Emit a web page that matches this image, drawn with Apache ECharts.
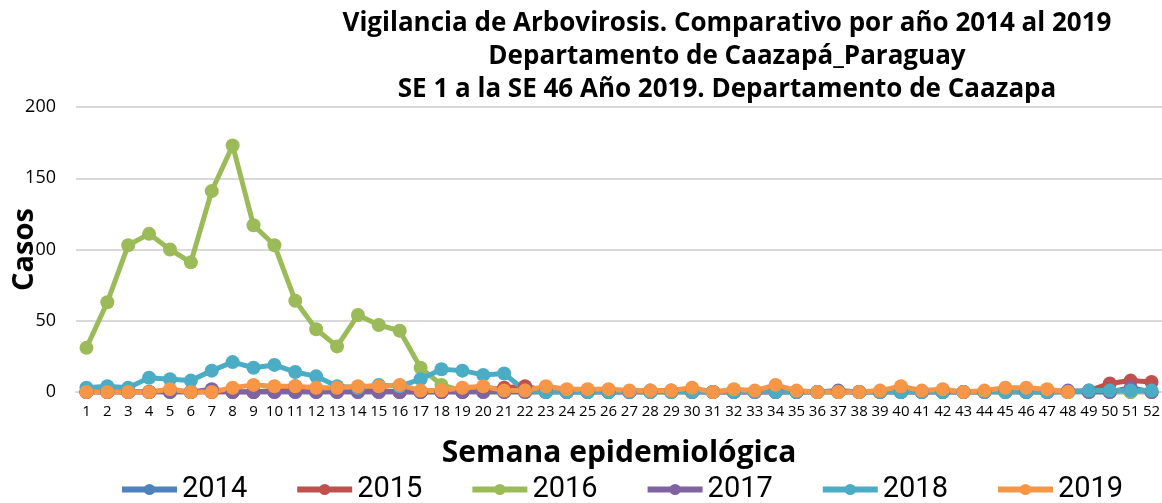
<!DOCTYPE html>
<html>
<head>
<meta charset="utf-8">
<script src="https://cdn.jsdelivr.net/npm/echarts@6/dist/echarts.min.js"></script>
<style>
  html, body { margin: 0; padding: 0; background: #fff; }
  #mountNode { width: 1162px; height: 503px; }
</style>
</head>
<body>
<div id="mountNode"></div>
<script>
// semanas epidemiologicas 1..52
const weeks = []
for (let i = 1; i <= 52; i++) weeks.push(String(i))

const years = ['2014', '2015', '2016', '2017', '2018', '2019']
const colors = ['#4F81BD', '#C0504D', '#9BBB59', '#8064A2', '#4BACC6', '#F79646']

const casos2014 = [0,0,0,0,0,0,0,0,0,0,0,0,0,0,0,0,0,0,0,0,0,0,0,0,0,0,
  0,0,0,0,0,0,0,0,0,0,0,0,0,0,0,0,0,0,0,0,0,0,0,0,0,0]
const casos2015 = [0,0,0,0,1,0,0,0,0,1,4,1,3,2,1,0,0,0,0,1,3,4,1,0,0,0,
  0,0,0,0,0,0,0,0,0,0,0,0,0,0,0,0,0,0,0,0,0,0,1,6,8,7]
const casos2016 = [31,63,103,111,100,91,141,173,117,103,64,44,32,54,47,43,17,5,1,0,0,0,0,0,0,0,
  0,0,0,0,0,0,0,0,0,0,0,0,0,0,0,0,0,0,0,0,0,0,0,0,0,0]
const casos2017 = [0,0,0,0,0,0,2,0,0,0,0,0,0,0,0,0,0,0,0,0,0,0,0,0,0,0,
  0,1,1,0,0,0,0,0,0,0,1,0,0,0,0,0,0,0,1,0,0,1,0,0,3,0]
const casos2018 = [3,4,3,10,9,8,15,21,17,19,14,11,4,3,5,4,9,16,15,12,13,1,0,0,0,0,
  0,0,0,0,0,0,0,0,0,0,0,0,0,0,0,0,0,0,0,0,0,0,1,1,1,1]
const casos2019 = [0,0,0,0,2,0,0,3,5,4,4,3,3,4,4,5,1,1,3,4,1,1,4,2,2,2,
  1,1,1,3,0,2,1,5,1,0,0,0,1,4,1,2,0,1,3,3,2,0]

const seriesData = [casos2014, casos2015, casos2016, casos2017, casos2018, casos2019]

const myChart = echarts.init(document.getElementById('mountNode'))
const option = {
    animation: false,
    color: colors,
    textStyle: { fontFamily: 'Open Sans', color: '#000' },
    title: {
        text: 'Vigilancia de Arbovirosis. Comparativo por año 2014 al 2019\nDepartamento de Caazapá_Paraguay\nSE 1 a la SE 46 Año 2019. Departamento de Caazapa',
        left: 722,
        top: 2,
        textAlign: 'center',
        textStyle: {
            fontFamily: 'Open Sans',
            fontSize: 26,
            fontWeight: 'bold',
            lineHeight: 33,
            color: '#000'
        }
    },
    legend: {
        data: years,
        top: 470,
        left: 114,
        width: 1045,
        itemWidth: 55,
        itemHeight: 14,
        itemGap: 47,
        lineStyle: { width: 6 },
        textStyle: { fontFamily: 'Roboto', fontSize: 29, color: '#000' }
    },
    grid: { left: 76, right: 0, top: 107, bottom: 111, outerBoundsMode: 'none' },
    xAxis: {
        type: 'category',
        data: weeks,
        name: 'Semana epidemiológica',
        nameLocation: 'middle',
        nameGap: 46,
        nameTextStyle: { fontSize: 30, fontWeight: 'bold', color: '#000' },
        axisLine: { lineStyle: { color: '#d9d9d9', width: 2 } },
        axisTick: { show: false },
        axisLabel: { interval: 0, fontSize: 15, color: '#000', margin: 12 }
    },
    yAxis: {
        type: 'value',
        min: 0,
        max: 200,
        interval: 50,
        name: 'Casos',
        nameLocation: 'middle',
        nameGap: 37,
        nameMoveOverlap: false,
        nameTextStyle: { fontSize: 29, fontWeight: 'bold', color: '#000' },
        axisLabel: { fontSize: 18, color: '#000', margin: 20 },
        splitLine: { lineStyle: { color: '#d9d9d9', width: 2 } }
    },
    series: years.map((y, i) => ({
        name: y,
        type: 'line',
        data: seriesData[i],
        symbol: 'circle',
        symbolSize: 14,
        lineStyle: { width: 5 },
        itemStyle: { color: colors[i] }
    }))
}
myChart.setOption(option)
</script>
</body>
</html>
